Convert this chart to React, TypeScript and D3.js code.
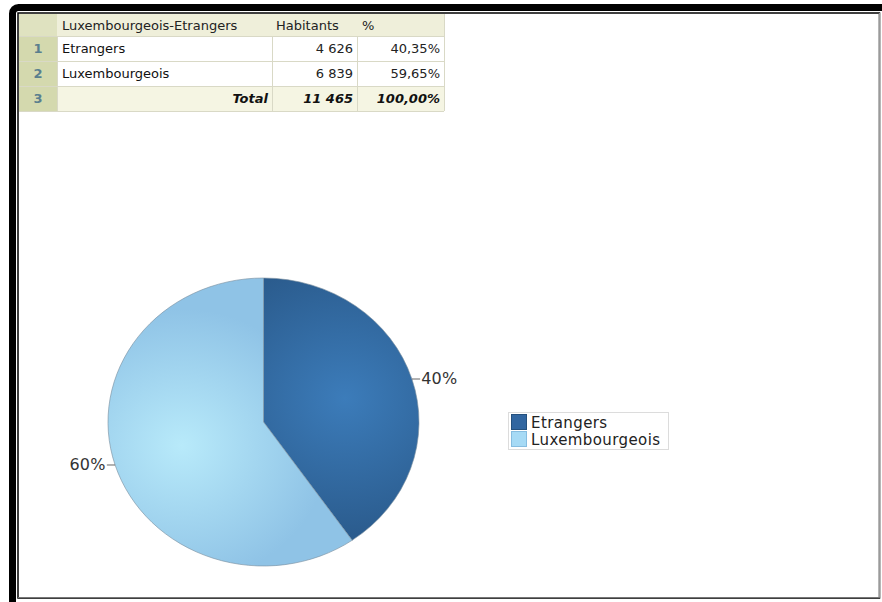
import React from "react";
import * as d3 from "d3";

const categories = ["Etrangers", "Luxembourgeois"];
const habitants = [4626, 6839];
const percents = [40.35, 59.65];
const headers = ["Luxembourgeois-Etrangers", "Habitants", "%"];
const totalLabel = "Total";
const sliceColors = [
  { center: "#3c7cba", edge: "#2b5c8e" },
  { center: "#b8eafa", edge: "#8fc3e6" },
];

const W = 882;
const H = 602;

const fmtNum = (v: number) => d3.format(",")(v).replace(/,/g, " ");
const fmtPct = (v: number) => d3.format(".2f")(v).replace(".", ",") + "%";

export default function App() {
  const total = d3.sum(habitants);
  const totalPct = d3.sum(percents);

  // table geometry
  const colX = [19, 57, 272, 357, 444];
  const rowY = [14, 36, 61, 86, 111];

  const rows = categories.map((c, i) => ({
    num: String(i + 1),
    cells: [c, fmtNum(habitants[i]), fmtPct(percents[i])],
  }));

  // pie
  const cx = 263.5;
  const cy = 422;
  const ry = 144;
  const sx = 155.5 / 144;
  const pie = d3
    .pie<number>()
    .sort(null)
    .value((d) => d)
    .startAngle(0)
    .endAngle(2 * Math.PI);
  const arcs = pie(habitants);
  const arcGen = d3.arc<d3.PieArcDatum<number>>().innerRadius(0).outerRadius(ry);
  const edgeArc = d3.arc<d3.PieArcDatum<number>>().innerRadius(ry).outerRadius(ry);
  const outArc = d3.arc<d3.PieArcDatum<number>>().innerRadius(ry + 8).outerRadius(ry + 8);

  const tableFont = "'DejaVu Sans', Tahoma, sans-serif";
  const chartFont = "'DejaVu Sans', Verdana, sans-serif";

  return (
    <div style={{ position: "absolute", left: 0, top: 0, width: W, height: H, background: "#fff" }}>
      <svg width={W} height={H} style={{ display: "block" }}>
        <defs>
          {arcs.map((a, i) => {
            const c = arcGen.centroid(a);
            return (
              <radialGradient
                key={i}
                id={`g${i}`}
                gradientUnits="userSpaceOnUse"
                cx={c[0] * 1.1}
                cy={c[1] * 1.1}
                r={ry * 0.95}
              >
                <stop offset="0" stopColor={sliceColors[i].center} />
                <stop offset="1" stopColor={sliceColors[i].edge} />
              </radialGradient>
            );
          })}
        </defs>
        <rect x={0} y={0} width={W} height={H} fill="#fff" />
        {/* outer frame */}
        <rect x={12.5} y={7.5} width={W + 20} height={H + 20} rx={6} fill="none" stroke="#000" strokeWidth={7} />
        <rect x={18} y={13} width={861.5} height={585} fill="none" stroke="#000" strokeWidth={1.5} />
        <line x1={879.5} y1={13} x2={879.5} y2={598} stroke="#9a9a9a" strokeWidth={1.5} />
        <line x1={18} y1={597.5} x2={880} y2={597.5} stroke="#777" strokeWidth={1} />

        {/* table */}
        <g fontFamily={tableFont} fontSize={13}>
          {/* header row */}
          <rect x={colX[0]} y={rowY[0]} width={colX[4] - colX[0]} height={rowY[1] - rowY[0]} fill="#efefda" />
          <rect x={colX[0]} y={rowY[0]} width={colX[1] - colX[0]} height={rowY[1] - rowY[0]} fill="#dfe2c0" />
          {rows.map((r, i) => (
            <g key={i}>
              <rect x={colX[0]} y={rowY[i + 1]} width={colX[1] - colX[0]} height={rowY[i + 2] - rowY[i + 1]} fill="#d4d9ae" />
              <rect x={colX[1]} y={rowY[i + 1]} width={colX[4] - colX[1]} height={rowY[i + 2] - rowY[i + 1]} fill="#ffffff" />
            </g>
          ))}
          <rect x={colX[0]} y={rowY[3]} width={colX[1] - colX[0]} height={rowY[4] - rowY[3]} fill="#d4d9ae" />
          <rect x={colX[1]} y={rowY[3]} width={colX[4] - colX[1]} height={rowY[4] - rowY[3]} fill="#f5f5e3" />
          {/* grid lines */}
          {rowY.slice(1).map((y, i) => (
            <line key={"h" + i} x1={colX[0]} x2={colX[4]} y1={y + 0.5} y2={y + 0.5} stroke="#d9d9c6" />
          ))}
          {colX.slice(1).map((x, i) => (
            <line key={"v" + i} x1={x + 0.5} x2={x + 0.5} y1={i === 3 ? rowY[0] : rowY[1]} y2={rowY[4]} stroke="#d9d9c6" />
          ))}
          {/* header text */}
          <text x={62} y={30} fill="#222">{headers[0]}</text>
          <text x={276} y={30} fill="#222">{headers[1]}</text>
          <text x={362} y={30} fill="#222">{headers[2]}</text>
          {rows.map((r, i) => {
            const yb = rowY[i + 1] + 17;
            return (
              <g key={"t" + i}>
                <text x={38} y={yb} textAnchor="middle" fill="#5a7f8e" fontWeight="bold">{r.num}</text>
                <text x={62} y={yb} fill="#111">{r.cells[0]}</text>
                <text x={colX[3] - 4} y={yb} textAnchor="end" fill="#222">{r.cells[1]}</text>
                <text x={colX[4] - 4} y={yb} textAnchor="end" fill="#222">{r.cells[2]}</text>
              </g>
            );
          })}
          <text x={38} y={rowY[3] + 17} textAnchor="middle" fill="#5a7f8e" fontWeight="bold">3</text>
          <text x={colX[2] - 4} y={rowY[3] + 17} textAnchor="end" fill="#111" fontWeight="bold" fontStyle="italic">{totalLabel}</text>
          <text x={colX[3] - 4} y={rowY[3] + 17} textAnchor="end" fill="#111" fontWeight="bold" fontStyle="italic">{fmtNum(total)}</text>
          <text x={colX[4] - 4} y={rowY[3] + 17} textAnchor="end" fill="#111" fontWeight="bold" fontStyle="italic">{fmtPct(totalPct)}</text>
        </g>

        {/* pie */}
        <g transform={`translate(${cx},${cy}) scale(${sx},1)`}>
          {arcs.map((a, i) => (
            <path key={i} d={arcGen(a) || ""} fill={`url(#g${i})`} stroke="#7a8fa0" strokeWidth={0.6} />
          ))}
        </g>
        {/* labels */}
        <g fontFamily={chartFont} fontSize={16} fill="#333" letterSpacing={0.3}>
          {arcs.map((a, i) => {
            const p0 = edgeArc.centroid(a);
            const p1 = outArc.centroid(a);
            const x0 = cx + p0[0] * sx;
            const y0 = cy + p0[1];
            const x1 = cx + p1[0] * sx;
            const right = p0[0] > 0;
            const label = Math.round(percents[i]) + "%";
            return (
              <g key={i}>
                <line x1={x0} y1={y0} x2={x1} y2={y0} stroke="#666" strokeWidth={1} />
                <text x={right ? x1 + 1 : x1 - 1} y={y0 + 5} textAnchor={right ? "start" : "end"}>{label}</text>
              </g>
            );
          })}
        </g>

        {/* legend */}
        <g fontFamily={chartFont} fontSize={15} fill="#222" letterSpacing={0.4}>
          <rect x={508.5} y={412.5} width={160} height={37} fill="#fff" stroke="#dcdcdc" />
          {categories.map((c, i) => (
            <g key={i}>
              <rect x={511.5} y={414.5 + i * 17} width={15} height={15} fill={i === 0 ? "#3166a0" : "#a6daf5"} stroke={i === 0 ? "#24507d" : "#86bde0"} />
              <text x={531} y={428 + i * 17}>{c}</text>
            </g>
          ))}
        </g>
      </svg>
    </div>
  );
}
